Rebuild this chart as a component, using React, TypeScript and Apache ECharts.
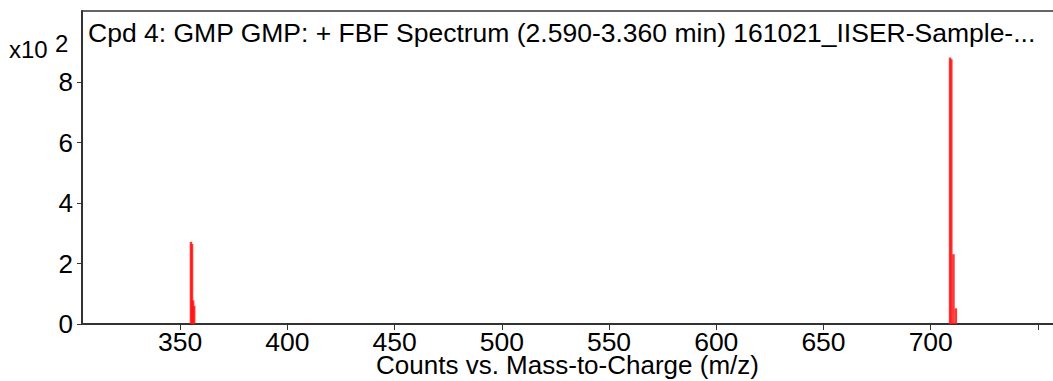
import React, { useEffect, useRef } from "react";
import * as echarts from "echarts";

const titleText = "Cpd 4: GMP GMP: + FBF Spectrum (2.590-3.360 min) 161021_IISER-Sample-...";
const xAxisTitle = "Counts vs. Mass-to-Charge (m/z)";
const xTickValues = [350, 400, 450, 500, 550, 600, 650, 700, 750];
const xLabelValues = [350, 400, 450, 500, 550, 600, 650, 700];
const yTickValues = [0, 2, 4, 6, 8];
// m/z and intensity (x10^2 counts)
const peakMz = [355.1, 355.6, 356.1, 356.6, 709.0, 709.6, 710.6, 711.7];
const peakIntensity = [2.72, 2.65, 0.78, 0.6, 8.82, 8.76, 2.31, 0.52];

const FONT = "'Liberation Sans', Arial, Helvetica, sans-serif";

export default function App() {
  const ref = useRef<HTMLDivElement>(null);
  useEffect(() => {
    if (!ref.current) return;
    const chart = echarts.init(ref.current, undefined, { renderer: "svg" });
    const data = peakMz.map((m, i) => [m, peakIntensity[i]]);
    chart.setOption({
      animation: false,
      backgroundColor: "#ffffff",
      textStyle: { fontFamily: FONT },
      title: {
        text: titleText,
        left: 88,
        top: 19,
        padding: 0,
        textStyle: { fontFamily: FONT, fontSize: 26.5, fontWeight: "normal", color: "#000" },
      },
      grid: {
        left: 82,
        right: 0,
        top: 11,
        bottom: 57,
        containLabel: false,
        outerBoundsMode: "none",
      },
      xAxis: [
        {
          type: "value",
          min: 304.3,
          max: 757,
          name: xAxisTitle,
          nameLocation: "middle",
          nameGap: 28,
          nameMoveOverlap: false,
          nameTextStyle: { fontFamily: FONT, fontSize: 26, color: "#000", verticalAlign: "top" },
          axisLine: { show: true, lineStyle: { color: "#333", width: 2 } },
          axisTick: {
            show: true,
            customValues: xTickValues,
            length: 6,
            lineStyle: { color: "#333", width: 1 },
          },
          axisLabel: {
            show: true,
            customValues: xLabelValues,
            margin: 4,
            fontFamily: FONT,
            fontSize: 26.5,
            color: "#000",
          },
          splitLine: { show: false },
        },
        {
          type: "value",
          position: "top",
          min: 304.3,
          max: 757,
          axisLine: { show: true, lineStyle: { color: "#333", width: 1.5 } },
          axisTick: { show: false },
          axisLabel: { show: false },
          splitLine: { show: false },
        },
      ],
      yAxis: {
        type: "value",
        min: 0,
        max: 10.36,
        axisLine: { show: true, lineStyle: { color: "#333", width: 2 } },
        axisTick: {
          show: true,
          customValues: yTickValues,
          length: 5,
          lineStyle: { color: "#333", width: 1 },
        },
        axisLabel: {
          show: true,
          customValues: yTickValues,
          margin: 9,
          fontFamily: FONT,
          fontSize: 26,
          color: "#000",
        },
        splitLine: { show: false },
      },
      graphic: [
        {
          type: "text",
          left: 9,
          top: 37,
          style: { text: "x10", font: `24px ${FONT}`, fill: "#000" },
        },
        {
          type: "text",
          left: 55,
          top: 31,
          style: { text: "2", font: `24px ${FONT}`, fill: "#000" },
        },
      ],
      series: [
        {
          type: "bar",
          xAxisIndex: 0,
          data,
          barWidth: 2.5,
          itemStyle: { color: "rgba(255,20,20,0.85)" },
        },
      ],
    });
    return () => chart.dispose();
  }, []);
  return (
    <div
      ref={ref}
      style={{ position: "fixed", left: 0, top: 0, width: 1053, height: 381 }}
    />
  );
}
